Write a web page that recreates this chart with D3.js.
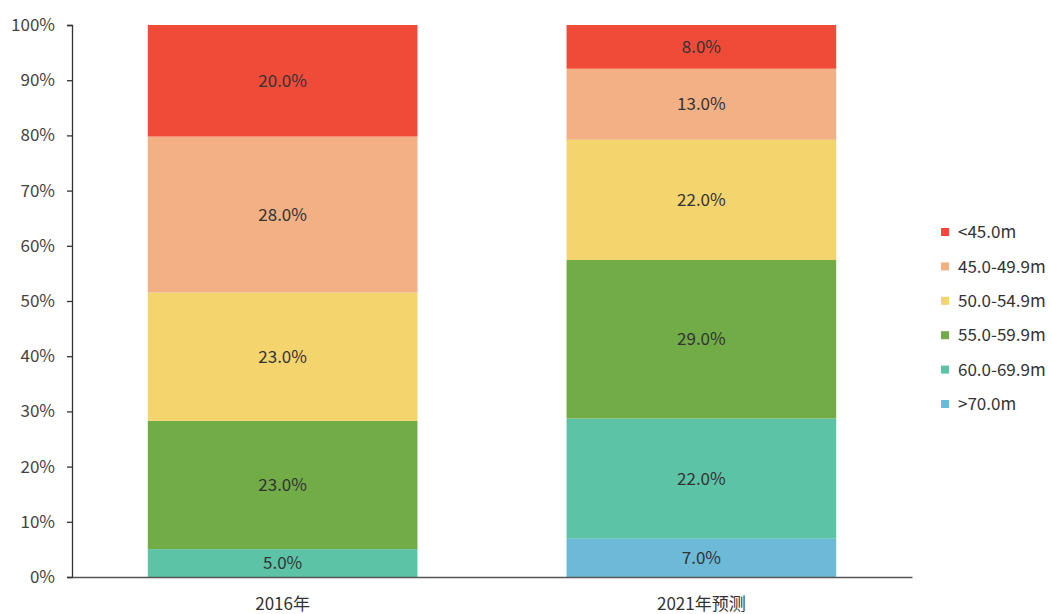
<!DOCTYPE html>
<html><head><meta charset="utf-8">
<script src="https://cdn.jsdelivr.net/npm/d3@7"></script>
<style>body{margin:0;background:#fff;} svg{display:block;}</style>
</head><body>
<svg id="c" width="1051" height="614"></svg>
<script>
const categories = ["2016年", "2021年预测"];
const seriesNames = [">70.0m", "60.0-69.9m", "55.0-59.9m", "50.0-54.9m", "45.0-49.9m", "<45.0m"];
const values2016 = [0, 5.0, 23.0, 23.0, 28.0, 20.0];
const values2021 = [7.0, 22.0, 29.0, 22.0, 13.0, 8.0];
const colors = ["#6cbad7", "#5dc3a6", "#71ac47", "#f4d46d", "#f2b084", "#f04b39"];
const yTicks = [0, 0.1, 0.2, 0.3, 0.4, 0.5, 0.6, 0.7, 0.8, 0.9, 1.0];

const font = "'Noto Sans CJK SC', 'Noto Sans', sans-serif";
const fs = 17;
const svg = d3.select("#c");
const m = {left: 72, right: 139, top: 25, bottom: 37};
const W = 1051, H = 614;

const rows = categories.map((c, i) => {
  const o = {cat: c};
  const vals = i === 0 ? values2016 : values2021;
  seriesNames.forEach((s, j) => o[s] = vals[j]);
  return o;
});
const stack = d3.stack().keys(seriesNames).offset(d3.stackOffsetExpand);
const stacked = stack(rows);

const x = d3.scaleBand().domain(categories).range([m.left, W - m.right]).paddingInner(0.356).paddingOuter(0.181);
const y = d3.scaleLinear().domain([0, 1]).range([H - m.bottom, m.top]);

// bars
const g = svg.append("g");
stacked.forEach((layer, j) => {
  g.selectAll(null).data(layer).enter().append("rect")
    .attr("x", d => x(d.data.cat))
    .attr("width", x.bandwidth())
    .attr("y", d => y(d[1]))
    .attr("height", d => y(d[0]) - y(d[1]))
    .attr("fill", colors[j]);
  g.selectAll(null).data(layer.filter(d => d.data[seriesNames[j]] > 0)).enter().append("text")
    .attr("x", d => x(d.data.cat) + x.bandwidth() / 2)
    .attr("y", d => (y(d[0]) + y(d[1])) / 2)
    .attr("dy", "0.36em")
    .attr("text-anchor", "middle")
    .attr("font-family", font).attr("font-size", fs).attr("fill", "#333")
    .text(d => d.data[seriesNames[j]].toFixed(1) + "%");
});

// y axis
const yAxis = svg.append("g").attr("transform", `translate(${m.left},0)`)
  .call(d3.axisLeft(y).tickValues(yTicks).tickFormat(d3.format(".0%")).tickSize(5).tickPadding(12));
yAxis.select(".domain").attr("stroke", "#333").attr("stroke-width", 1.3);
yAxis.selectAll(".tick line").attr("stroke", "#333").attr("stroke-width", 1.3);
yAxis.selectAll("text").attr("font-family", font).attr("font-size", fs).attr("fill", "#444");

// x axis
const xAxis = svg.append("g").attr("transform", `translate(0,${H - m.bottom})`)
  .call(d3.axisBottom(x).tickSize(0).tickPadding(21));
xAxis.select(".domain").attr("stroke", "#555").attr("stroke-width", 1.5);
xAxis.selectAll("text").attr("font-family", font).attr("font-size", fs).attr("fill", "#333");

// legend
const legendOrder = seriesNames.slice().reverse();
const lg = svg.append("g");
legendOrder.forEach((s, i) => {
  const cy = 232 + i * 34.4;
  lg.append("rect").attr("x", 941).attr("y", cy - 4).attr("width", 8).attr("height", 8)
    .attr("fill", colors[seriesNames.indexOf(s)]);
  lg.append("text").attr("x", 958).attr("y", cy).attr("dy", "0.36em")
    .attr("font-family", font).attr("font-size", fs).attr("fill", "#333").text(s);
});
</script>
</body></html>
